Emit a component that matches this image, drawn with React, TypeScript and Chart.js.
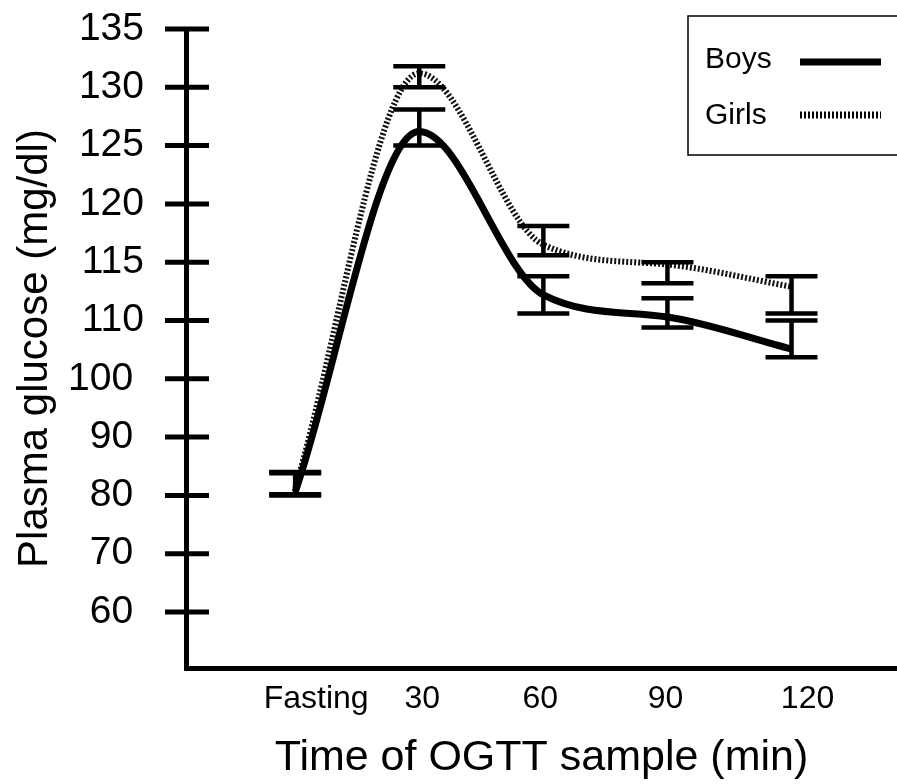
import React, { useEffect, useRef } from "react";
import { Chart, registerables } from "chart.js";

Chart.register(...registerables);

// ---- data ----
const timeLabels = ["Fasting", "30", "60", "90", "120"];
const yTickValues = [60, 70, 80, 90, 100, 110, 115, 120, 125, 130, 135];

const boysMean = [80.6, 126.2, 112.2, 110.3, 105.1];
const boysLow = [80.0, 125.0, 110.6, 108.8, 103.7];
const boysHigh = [84.0, 128.1, 113.8, 111.9, 110.0];

const girlsMean = [81.2, 131.2, 116.5, 114.8, 112.9];
const girlsLow = [80.2, 130.0, 115.6, 113.2, 110.6];
const girlsHigh = [83.8, 131.8, 118.1, 115.0, 113.8];

// style: horizontal nudges (px) of the x tick labels, as printed in the reference
const xLabelNudge = [21, 3, -3, -2, 16];

// The y axis of the reference is piecewise: evenly spaced labels with unequal steps.
function toAxis(v: number): number {
  const n = yTickValues.length;
  for (let i = 0; i < n - 1; i++) {
    const a = yTickValues[i];
    const b = yTickValues[i + 1];
    if (v <= b || i === n - 2) return i + (v - a) / (b - a);
  }
  return 0;
}

const FONT = "'Liberation Sans', Arial, Helvetica, sans-serif";

const nudgeXLabels = {
  id: "nudgeXLabels",
  beforeDraw(chart: any) {
    const x = chart.scales.x;
    if (!x || typeof x.getLabelItems !== "function") return;
    const items = x.getLabelItems();
    if (items.__nudged) return;
    items.forEach((it: any, i: number) => {
      const d = xLabelNudge[i] || 0;
      if (it && it.options && Array.isArray(it.options.translation)) {
        it.options.translation = [it.options.translation[0] + d, it.options.translation[1]];
      }
    });
    items.__nudged = true;
  },
};

const yTickMarks = {
  id: "yTickMarks",
  afterDraw(chart: any) {
    const { ctx, chartArea, scales } = chart;
    const y = scales.y;
    ctx.save();
    ctx.strokeStyle = "#000";
    ctx.lineWidth = 5;
    yTickValues.forEach((_, i) => {
      const py = y.getPixelForValue(i);
      ctx.beginPath();
      ctx.moveTo(chartArea.left - 21, py);
      ctx.lineTo(chartArea.left + 23, py);
      ctx.stroke();
    });
    ctx.restore();
  },
};

const errorBars = {
  id: "errorBars",
  afterDatasetsDraw(chart: any) {
    const { ctx, scales } = chart;
    const x = scales.x;
    const y = scales.y;
    ctx.save();
    ctx.strokeStyle = "#000";
    ctx.lineWidth = 4.5;
    ctx.lineCap = "butt";
    const sets: [number[], number[]][] = [
      [boysLow, boysHigh],
      [girlsLow, girlsHigh],
    ];
    sets.forEach(([lo, hi]) => {
      lo.forEach((l, i) => {
        const px = x.getPixelForValue(i);
        const yl = y.getPixelForValue(toAxis(l));
        const yh = y.getPixelForValue(toAxis(hi[i]));
        ctx.beginPath();
        ctx.moveTo(px, yl);
        ctx.lineTo(px, yh);
        ctx.moveTo(px - 26, yl);
        ctx.lineTo(px + 26, yl);
        ctx.moveTo(px - 26, yh);
        ctx.lineTo(px + 26, yh);
        ctx.stroke();
      });
    });
    ctx.restore();
  },
};

const boxLegend = {
  id: "boxLegend",
  afterDraw(chart: any) {
    const { ctx } = chart;
    ctx.save();
    ctx.strokeStyle = "#000";
    ctx.lineWidth = 1.5;
    ctx.strokeRect(688, 16, 240, 139);
    ctx.fillStyle = "#000";
    ctx.font = `30px ${FONT}`;
    ctx.textAlign = "left";
    ctx.textBaseline = "alphabetic";
    ctx.fillText("Boys", 705, 68);
    ctx.fillText("Girls", 705, 124);
    ctx.lineWidth = 7;
    ctx.beginPath();
    ctx.moveTo(800, 62);
    ctx.lineTo(881, 62);
    ctx.stroke();
    ctx.setLineDash([2, 2]);
    ctx.beginPath();
    ctx.moveTo(800, 115);
    ctx.lineTo(881, 115);
    ctx.stroke();
    ctx.restore();
  },
};

export default function App() {
  const canvasRef = useRef<HTMLCanvasElement | null>(null);

  useEffect(() => {
    if (!canvasRef.current) return;
    Chart.defaults.font.family = FONT;
    Chart.defaults.color = "#000";

    const chart = new Chart(canvasRef.current, {
      type: "line",
      data: {
        datasets: [
          {
            label: "Boys",
            data: boysMean.map((v, i) => ({ x: i, y: toAxis(v) })),
            borderColor: "#000",
            borderWidth: 7,
            pointRadius: 0,
            fill: false,
            cubicInterpolationMode: "monotone",
          },
          {
            label: "Girls",
            data: girlsMean.map((v, i) => ({ x: i, y: toAxis(v) })),
            borderColor: "#111",
            borderWidth: 6,
            borderDash: [2, 2],
            pointRadius: 0,
            fill: false,
            cubicInterpolationMode: "monotone",
          },
        ],
      },
      options: {
        animation: false,
        responsive: true,
        maintainAspectRatio: false,
        layout: { padding: { top: 29, left: 0, right: 0, bottom: 0 } },
        plugins: {
          legend: { display: false },
          tooltip: { enabled: false },
        },
        scales: {
          x: {
            type: "linear",
            min: -0.88,
            max: 4.85,
            afterBuildTicks: (scale: any) => {
              scale.ticks = timeLabels.map((_, i) => ({ value: i }));
            },
            afterFit: (scale: any) => {
              scale.height = 116;
              scale.paddingLeft = 0;
              scale.paddingRight = 0;
            },
            ticks: {
              autoSkip: false,
              maxRotation: 0,
              padding: 12,
              color: "#000",
              font: { size: 32, family: FONT },
              callback: (v: any) => timeLabels[Math.round(Number(v))] ?? "",
            },
            grid: { display: false, drawTicks: false },
            border: { display: true, width: 5, color: "#000" },
            title: {
              display: true,
              text: "Time of OGTT sample (min)",
              color: "#000",
              font: { size: 43, family: FONT },
              padding: { top: 0, bottom: 0 },
            },
          },
          y: {
            type: "linear",
            min: -0.96,
            max: 10,
            afterBuildTicks: (scale: any) => {
              scale.ticks = yTickValues.map((_, i) => ({ value: i }));
            },
            afterFit: (scale: any) => {
              scale.width = 186;
              scale.paddingTop = 0;
              scale.paddingBottom = 0;
            },
            ticks: {
              autoSkip: false,
              padding: 42,
              color: "#000",
              font: { size: 39, family: FONT },
              callback: (v: any) => {
                const t = yTickValues[Math.round(Number(v))];
                if (t === undefined) return "";
                return t >= 110 ? String(t) : t + " ";
              },
            },
            grid: { display: false, drawTicks: false },
            border: { display: true, width: 5, color: "#000" },
            title: {
              display: true,
              text: "Plasma glucose (mg/dl)",
              color: "#000",
              font: { size: 42, family: FONT },
              padding: { top: 10, bottom: 0 },
            },
          },
        },
      },
      plugins: [nudgeXLabels, yTickMarks, errorBars, boxLegend],
    } as any);

    return () => chart.destroy();
  }, []);

  return (
    <div style={{ position: "absolute", left: 0, top: 0, width: 897, height: 784, background: "#fff" }}>
      <canvas ref={canvasRef} />
    </div>
  );
}
